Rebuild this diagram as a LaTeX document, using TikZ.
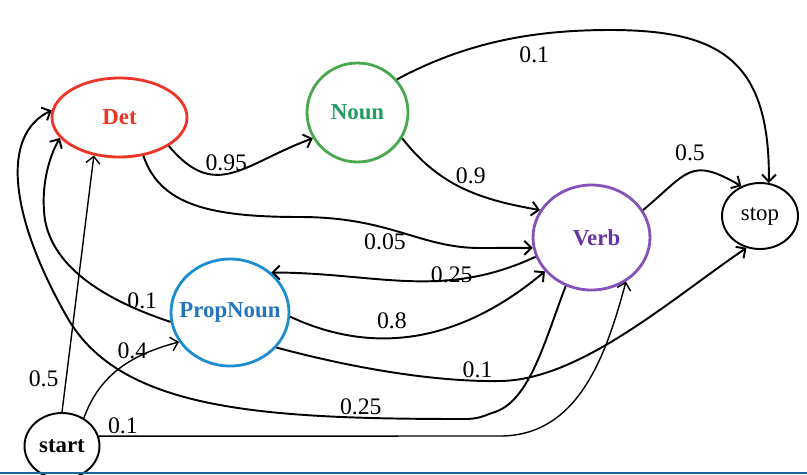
\documentclass[tikz,border=0pt]{standalone}
\usepackage{fontspec}
\setmainfont{Liberation Serif}
\usetikzlibrary{shapes.geometric,arrows.meta}
\definecolor{detred}{RGB}{238,52,38}
\definecolor{noungreen}{RGB}{72,168,80}
\definecolor{nountext}{RGB}{34,156,96}
\definecolor{verbline}{RGB}{132,82,184}
\definecolor{verbtext}{RGB}{104,52,160}
\definecolor{propline}{RGB}{30,140,208}
\definecolor{proptext}{RGB}{36,116,190}
\definecolor{rulecolor}{RGB}{32,100,150}
\begin{document}
\begin{tikzpicture}[x=0.02cm,y=0.02cm,
    state/.style={ellipse,draw,line width=1.6pt,inner sep=0pt,
      font=\fontsize{13}{15}\selectfont\bfseries},
    edge/.style={line width=1.1pt,-{Straight Barb[length=1.4mm,width=2.8mm]}},
    thinedge/.style={line width=0.8pt},
    wt/.style={font=\fontsize{13.5}{15}\selectfont,inner sep=1pt}]
  \useasboundingbox (0,0) rectangle (807,-474);
  \draw
    (119.5,-117.5) node[state,detred,minimum width=2.7cm,minimum height=1.58cm] (det){Det}
    (357.5,-112.5) node[state,draw=noungreen,text=nountext,minimum width=2.02cm,minimum height=1.98cm] (noun){Noun}
    (591.5,-237.5) node[state,draw=verbline,text=verbtext,minimum width=2.34cm,minimum height=2.1cm] (verb){\hspace*{0.2cm}Verb}
    (230,-312.5) node[state,draw=propline,minimum width=2.36cm,minimum height=2.14cm,
      label={[text=proptext,font=\fontsize{13}{15}\selectfont\bfseries]center:PropNoun}] (prop){}
    (760,-216) node[state,line width=1.1pt,font=\fontsize{13}{15}\selectfont,minimum width=1.52cm,minimum height=1.32cm] (stop){stop}
    (62,-446) node[state,line width=1.1pt,minimum width=1.5cm,minimum height=1.32cm] (start){start};
  \begin{scope}[edge]
    \draw (det.-30) to[out=-50,in=200,looseness=1.3] node[wt,above,pos=0.45]{0.95} (noun.210);
    \draw (det.-58) .. controls (160,-205) and (210,-217) .. (300,-217)
      .. controls (390,-217) and (420,-248) .. (480,-248) node[wt,below,pos=0.4,yshift=-2pt]{0.05} -- (verb.190);
    \draw (noun.40) .. controls (470,-40) and (540,-30) .. (610,-30) node[wt,below,pos=0.64,yshift=-5pt]{0.1}
      .. controls (720,-30) and (770,-60) .. (stop.75);
    \draw (noun.-30) to[out=-52,in=170] node[wt,above=3pt,pos=0.56]{0.9} (verb.152);
    \draw (verb.28) to[out=40,in=150,looseness=1.5] node[wt,above=5pt,pos=0.5]{0.5} (stop.122);
    \draw (verb.199) to[out=205,in=0] node[wt,above,inner sep=0pt,pos=0.32,yshift=-2pt]{0.25} (prop.44);
    \draw (prop.-4) to[out=-25,in=220] node[wt,above=4pt,pos=0.38]{0.8} (verb.216);
    \draw (prop.-37) .. controls (360,-370) and (440,-382) .. (500,-381) node[wt,above,pos=0.88]{0.1}
      .. controls (580,-380) and (670,-300) .. (stop.247);
    \draw (prop.189) .. controls (120,-305) and (55,-275) .. (45,-220) node[wt,above,pos=0.18]{0.1}
      .. controls (40,-185) and (50,-155) .. (det.199);
    \draw[thinedge] (start.90) -- node[wt,left=3pt,pos=0.13]{0.5} (det.236);
    \draw[thinedge] (start.52) to[out=70,in=195] node[wt,above,inner sep=0pt,pos=0.62]{0.4} (prop.210);
    \draw[thinedge] (start.15) -- node[wt,above,pos=0.06]{0.1} (500,-436) to[out=0,in=255] (verb.-52);
    \draw (verb.242) .. controls (545,-340) and (530,-400) .. (495,-412)
      .. controls (485,-415) and (480,-419) .. (465,-419)
      .. controls (260,-419) and (120,-410) .. (67,-317) node[wt,above,pos=0.18]{0.25}
      .. controls (10,-217) and (0,-135) .. (det.174);
  \end{scope}
  \draw[rulecolor,line width=1.4pt] (0,-472.8) -- (807,-472.8);
\end{tikzpicture}
\end{document}
